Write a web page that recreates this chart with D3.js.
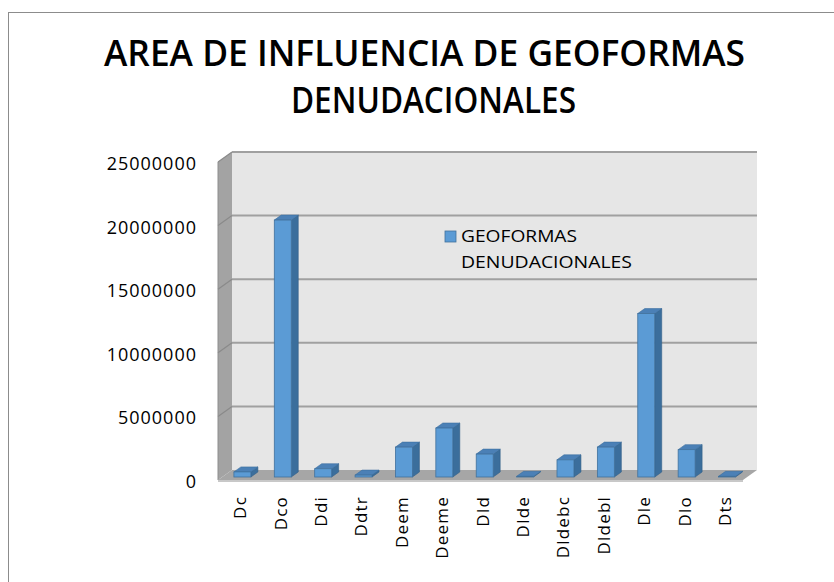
<!DOCTYPE html>
<html>
<head>
<meta charset="utf-8">
<script src="https://cdn.jsdelivr.net/npm/d3@7"></script>
<style>
  html, body { margin: 0; padding: 0; background: #fff; }
  svg { display: block; }
</style>
</head>
<body>
<svg id="chart" width="834" height="582"></svg>
<script>
const titleLines = ["AREA DE INFLUENCIA DE GEOFORMAS", "DENUDACIONALES"];
const seriesName = ["GEOFORMAS", "DENUDACIONALES"];
const categories = ["Dc", "Dco", "Ddi", "Ddtr", "Deem", "Deeme", "Dld", "Dlde", "Dldebc", "Dldebl", "Dle", "Dlo", "Dts"];
const values = [400000, 20200000, 650000, 150000, 2350000, 3850000, 1800000, 50000, 1350000, 2350000, 12850000, 2150000, 50000];
const yTicks = [0, 5000000, 10000000, 15000000, 20000000, 25000000];

const svg = d3.select("#chart");
const font = "'Open Sans', 'DejaVu Sans', sans-serif";

// frame
svg.append("rect").attr("x", 8.5).attr("y", 12.5).attr("width", 840).attr("height", 600)
  .attr("fill", "#fff").attr("stroke", "#8c8c8c").attr("stroke-width", 1);

// title
const titleY = [66, 113];
const titleX = [424.5, 433.5];
const titleW = [641, 285];
titleLines.forEach((t, i) => {
  svg.append("text")
    .attr("x", titleX[i]).attr("y", titleY[i])
    .attr("text-anchor", "middle")
    .attr("font-family", font).attr("font-weight", 600).attr("font-size", 36)
    .attr("textLength", titleW[i]).attr("lengthAdjust", "spacingAndGlyphs")
    .attr("fill", "#000")
    .text(t);
});

// geometry of the 3D plot
const front = { x0: 218, x1: 743, y0: 480 };
const depth = { dx: 14, dy: 10 };
const y = d3.scaleLinear().domain([0, 25000000]).range([front.y0, front.y0 - 5 * 63.6]);
const x = d3.scaleBand().domain(categories).range([front.x0, front.x1]).padding(0);
const proj = (px, py, d) => [px + depth.dx * d, py - depth.dy * d];
const pts = arr => arr.map(p => p.join(",")).join(" ");

const g = svg.append("g");

// back wall
const bw = [proj(front.x0, y(25000000), 1), proj(front.x1, y(25000000), 1), proj(front.x1, y(0), 1), proj(front.x0, y(0), 1)];
g.append("polygon").attr("points", pts(bw)).attr("fill", "#e6e6e6");
// side wall
const sw = [[front.x0, y(25000000)], proj(front.x0, y(25000000), 1), proj(front.x0, y(0), 1), [front.x0, y(0)]];
g.append("polygon").attr("points", pts(sw)).attr("fill", "#a3a3a3");
// floor
const fl = [[front.x0, y(0)], proj(front.x0, y(0), 1), proj(front.x1, y(0), 1), [front.x1, y(0)]];
g.append("polygon").attr("points", pts(fl)).attr("fill", "#a6a6a6");
g.append("line").attr("x1", front.x0).attr("y1", y(0) + 1).attr("x2", front.x1).attr("y2", y(0) + 1)
  .attr("stroke", "#c8c8c8").attr("stroke-width", 2);

// gridlines on back wall and side wall
yTicks.forEach(v => {
  const a = proj(front.x0, y(v), 1), b = proj(front.x1, y(v), 1);
  if (v > 0) {
    g.append("line").attr("x1", a[0]).attr("y1", a[1]).attr("x2", b[0]).attr("y2", b[1])
      .attr("stroke", "#a0a0a0").attr("stroke-width", 2);
    g.append("line").attr("x1", front.x0).attr("y1", y(v)).attr("x2", a[0]).attr("y2", a[1])
      .attr("stroke", "#8a8a8a").attr("stroke-width", 1.2);
  }
});
g.append("line").attr("x1", front.x0).attr("y1", y(25000000)).attr("x2", front.x0).attr("y2", y(0))
  .attr("stroke", "#8e8e8e").attr("stroke-width", 1);

// y axis labels
const yAxis = d3.axisLeft(y).tickValues(yTicks).tickSize(0).tickPadding(0).tickFormat(d3.format("d"));
const ax = svg.append("g").attr("transform", "translate(197,1)").call(yAxis);
ax.select(".domain").remove();
ax.selectAll("text").attr("font-family", font).attr("font-size", 18).attr("fill", "#000")
  .attr("letter-spacing", 1).attr("dy", "0.36em");

// bars
const bd0 = 0.3, bd1 = 0.8;
const barFrac = 0.42;
const bars = g.append("g");
categories.forEach((c, i) => {
  const v = values[i];
  const cx = x(c) + x.bandwidth() / 2;
  const w = x.bandwidth() * barFrac;
  const [fx0, fyb] = proj(cx - w / 2, y(0), bd0);
  const [fx1] = proj(cx + w / 2, y(0), bd0);
  const [, fyt] = proj(cx, y(v), bd0);
  const ddx = depth.dx * (bd1 - bd0), ddy = depth.dy * (bd1 - bd0);
  // side
  bars.append("polygon").attr("points", pts([[fx1, fyt], [fx1 + ddx, fyt - ddy], [fx1 + ddx, fyb - ddy], [fx1, fyb]]))
    .attr("fill", "#3b6e9c").attr("stroke", "#335f88").attr("stroke-width", 0.6);
  // top
  bars.append("polygon").attr("points", pts([[fx0, fyt], [fx0 + ddx, fyt - ddy], [fx1 + ddx, fyt - ddy], [fx1, fyt]]))
    .attr("fill", "#4b80b6").attr("stroke", "#3d6f9f").attr("stroke-width", 0.6);
  // front
  bars.append("rect").attr("x", fx0).attr("y", fyt).attr("width", fx1 - fx0).attr("height", Math.max(0, fyb - fyt))
    .attr("fill", "#5b9bd5").attr("stroke", "#41719c").attr("stroke-width", 0.8);
});

// x labels
svg.append("g").selectAll("text").data(categories).join("text")
  .attr("transform", d => `translate(${x(d) + x.bandwidth() / 2 + 2},496) rotate(-90)`)
  .attr("text-anchor", "end").attr("dy", "0.36em")
  .attr("font-family", font).attr("font-size", 17).attr("letter-spacing", 1.2).attr("fill", "#000")
  .text(d => d);

// legend
svg.append("rect").attr("x", 445).attr("y", 231).attr("width", 11).attr("height", 11)
  .attr("fill", "#5b9bd5").attr("stroke", "#41719c").attr("stroke-width", 0.8);
const legW = [116, 171];
const legY = [241.5, 268];
seriesName.forEach((t, i) => {
  svg.append("text").attr("x", 461).attr("y", legY[i])
    .attr("font-family", font).attr("font-size", 16).attr("fill", "#000")
    .attr("textLength", legW[i]).attr("lengthAdjust", "spacingAndGlyphs")
    .text(t);
});
</script>
</body>
</html>
